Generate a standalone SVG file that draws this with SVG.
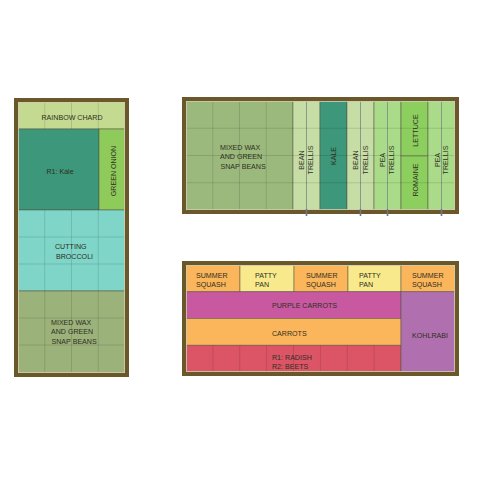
<svg xmlns="http://www.w3.org/2000/svg" width="480" height="480" viewBox="0 0 480 480">
<style>
.bed{fill:none;stroke:#6b582a;stroke-width:4}
.inner{fill:none;stroke:#d8d2b8;stroke-width:0.8}
.cell{stroke:#4f5040;stroke-width:0.7;stroke-opacity:0.7}
.grid{stroke:#000;stroke-opacity:0.12;stroke-width:1;fill:none}
.mid{stroke:#8a9888;stroke-width:1}
.tick{stroke:#6f7688;stroke-width:1.6}
text{font-family:"Liberation Sans",Arial,sans-serif;font-size:7.1px;fill:#2f2f22}
.m{text-anchor:middle}
</style>
<rect width="480" height="480" fill="#ffffff"/>

<!-- LEFT BED -->
<g id="left-bed">
  <g id="rainbow-chard"><rect class="cell" x="18" y="102" width="107" height="27" fill="#c5da91"/><text class="m" x="72" y="119.5">RAINBOW CHARD</text></g>
  <g id="r1-kale"><rect class="cell" x="18" y="129" width="81" height="81" fill="#3d977a"/><text class="m" x="60" y="173.5">R1: Kale</text></g>
  <g id="green-onion"><rect class="cell" x="99" y="129" width="26" height="81" fill="#8fcb5a"/><text class="m" transform="translate(115.8 171) rotate(-90)">GREEN ONION</text></g>
  <g id="cutting-broccoli"><rect class="cell" x="18" y="210" width="107" height="81" fill="#7ed5c8"/><text x="55" y="248.5">CUTTING</text><text x="56" y="258.5">BROCCOLI</text></g>
  <g id="left-beans"><rect class="cell" x="18" y="291" width="107" height="82" fill="#9cb27b"/><text x="51" y="324.5">MIXED WAX</text><text x="51" y="334">AND GREEN</text><text x="51.5" y="343.5">SNAP BEANS</text></g>
  <path class="grid" d="M44.75 102V129M71.5 102V129M98.25 102V129M44.75 210V373M71.5 210V373M98.25 210V373M18 237H125M18 264H125M18 318H125M18 345H125"/>
  <rect class="inner" x="18.4" y="102.4" width="106.2" height="270.2"/>
  <rect class="bed" x="16" y="100" width="111" height="275"/>
</g>

<!-- TOP RIGHT BED -->
<g id="top-bed">
  <g id="top-beans"><rect class="cell" x="186" y="101" width="107" height="109" fill="#9cb97d"/><text x="220" y="149.5">MIXED WAX</text><text x="220" y="159">AND GREEN</text><text x="220.5" y="168.5">SNAP BEANS</text></g>
  <g id="bean-trellis-1"><rect class="cell" x="293" y="101" width="27" height="109" fill="#c6dda5"/><line class="mid" x1="306.5" y1="101" x2="306.5" y2="210"/><text class="m" transform="translate(304.3 160) rotate(-90)">BEAN</text><text class="m" transform="translate(313.3 160) rotate(-90)">TRELLIS</text></g>
  <g id="top-kale"><rect class="cell" x="320" y="101" width="27" height="109" fill="#3d977a"/><text class="m" transform="translate(336.4 156) rotate(-90)">KALE</text></g>
  <g id="bean-trellis-2"><rect class="cell" x="347" y="101" width="27" height="109" fill="#c6dda5"/><line class="mid" x1="360.5" y1="101" x2="360.5" y2="210"/><text class="m" transform="translate(358.1 160) rotate(-90)">BEAN</text><text class="m" transform="translate(368 160) rotate(-90)">TRELLIS</text></g>
  <g id="pea-trellis-1"><rect class="cell" x="374" y="101" width="27" height="109" fill="#a9db88"/><line class="mid" x1="387.5" y1="101" x2="387.5" y2="210"/><text class="m" transform="translate(385.1 160) rotate(-90)">PEA</text><text class="m" transform="translate(394.1 160) rotate(-90)">TRELLIS</text></g>
  <g id="lettuce"><rect class="cell" x="401" y="101" width="27" height="55" fill="#8dcf5e"/><text class="m" transform="translate(418 130.5) rotate(-90)">LETTUCE</text></g>
  <g id="romaine"><rect class="cell" x="401" y="156" width="27" height="54" fill="#8dcf5e"/><text class="m" transform="translate(418 180) rotate(-90)">ROMAINE</text></g>
  <g id="pea-trellis-2"><rect class="cell" x="428" y="101" width="27" height="109" fill="#a9db88"/><line class="mid" x1="441.5" y1="101" x2="441.5" y2="210"/><text class="m" transform="translate(440 160) rotate(-90)">PEA</text><text class="m" transform="translate(447.6 160) rotate(-90)">TRELLIS</text></g>
  <path class="grid" d="M212.75 101V210M239.5 101V210M266.25 101V210M186 128.25H455M186 155.5H401M428 155.5H455M186 182.75H455"/>
  <rect class="inner" x="186.4" y="101.4" width="268.2" height="108.2"/>
  <rect class="bed" x="184" y="99" width="273" height="113"/>
  <path class="tick" d="M306.5 209V216M360.5 209V216M387.5 209V216M441.5 209V216"/>
</g>

<!-- BOTTOM RIGHT BED -->
<g id="bottom-bed">
  <g id="summer-squash-1"><rect class="cell" x="186" y="265" width="54" height="26.75" fill="#fbb65b"/><text x="196" y="277.5">SUMMER</text><text x="196" y="287">SQUASH</text></g>
  <g id="patty-pan-1"><rect class="cell" x="240" y="265" width="54" height="26.75" fill="#f8ea8c"/><text x="255" y="277.5">PATTY</text><text x="255" y="287">PAN</text></g>
  <g id="summer-squash-2"><rect class="cell" x="294" y="265" width="54" height="26.75" fill="#fbb65b"/><text x="306" y="277.5">SUMMER</text><text x="306" y="287">SQUASH</text></g>
  <g id="patty-pan-2"><rect class="cell" x="348" y="265" width="53" height="26.75" fill="#f8ea8c"/><text x="359" y="277.5">PATTY</text><text x="359" y="287">PAN</text></g>
  <g id="summer-squash-3"><rect class="cell" x="401" y="265" width="54" height="26.75" fill="#fbb65b"/><text x="412" y="277.5">SUMMER</text><text x="412" y="287">SQUASH</text></g>
  <g id="purple-carrots"><rect class="cell" x="186" y="291.75" width="215" height="26.75" fill="#c858a0"/><text x="272" y="308">PURPLE CARROTS</text></g>
  <g id="carrots"><rect class="cell" x="186" y="318.5" width="215" height="26.75" fill="#fbb65b"/><text x="272" y="335.5">CARROTS</text></g>
  <g id="radish-beets"><rect class="cell" x="186" y="345.25" width="215" height="26.75" fill="#dc5566"/><path class="grid" d="M212.9 345.25V372M239.75 345.25V372M266.6 345.25V372M293.5 345.25V372M320.4 345.25V372M347.25 345.25V372M374.1 345.25V372"/><text x="272" y="359.5">R1: RADISH</text><text x="272" y="369.3">R2: BEETS</text></g>
  <g id="kohlrabi"><rect class="cell" x="401" y="291.75" width="54" height="80.25" fill="#b070b0"/><text class="m" x="430" y="337.5">KOHLRABI</text></g>
  <rect class="inner" x="186.4" y="265.4" width="268.2" height="106.2"/>
  <rect class="bed" x="184" y="263" width="273" height="111"/>
</g>

<g id="connectors"/>
</svg>
